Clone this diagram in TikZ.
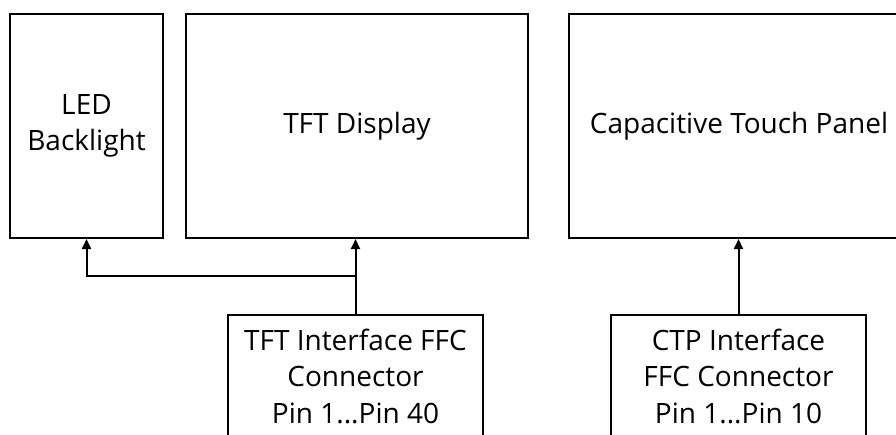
\documentclass[tikz,border=0pt]{standalone}
\usepackage{fontspec}
\setmainfont{Open Sans}
\usetikzlibrary{arrows.meta}
\begin{document}
\begin{tikzpicture}[x=1pt,y=1pt,
  blk/.style={draw=black, line width=2pt, rectangle, inner sep=0pt, align=center,
    font=\fontsize{28}{36.5}\selectfont},
  conn/.style={line width=2pt, -{Triangle[width=9pt,length=10pt]}}]
\useasboundingbox (0,0) rectangle (896,-434);
\clip (0,0) rectangle (896,-434);
\fill[white] (0,0) rectangle (896,-434);
\node[blk, minimum width=153pt, minimum height=224pt] (led) at (86.5,-126) {LED\\Backlight};
\node[blk, minimum width=342pt, minimum height=224pt] (tft) at (357,-126) {TFT Display};
\node[blk, minimum width=340pt, minimum height=224pt] (ctp) at (739,-126) {Capacitive Touch Panel};
\node[blk, minimum width=255pt, minimum height=122pt] (tftif) at (355.5,-376) {TFT Interface FFC\\Connector\\Pin 1...Pin 40};
\node[blk, minimum width=255pt, minimum height=122pt] (ctpif) at (738.5,-376) {CTP Interface\\FFC Connector\\Pin 1...Pin 10};
\coordinate (j) at (tftif.north |- 0,-276);
\draw[conn] (tftif.north) -- (tft.south -| tftif.north);
\draw[conn] (j) -| (led.south);
\draw[conn] (ctpif.north) -- (ctp.south -| ctpif.north);
\end{tikzpicture}
\end{document}
